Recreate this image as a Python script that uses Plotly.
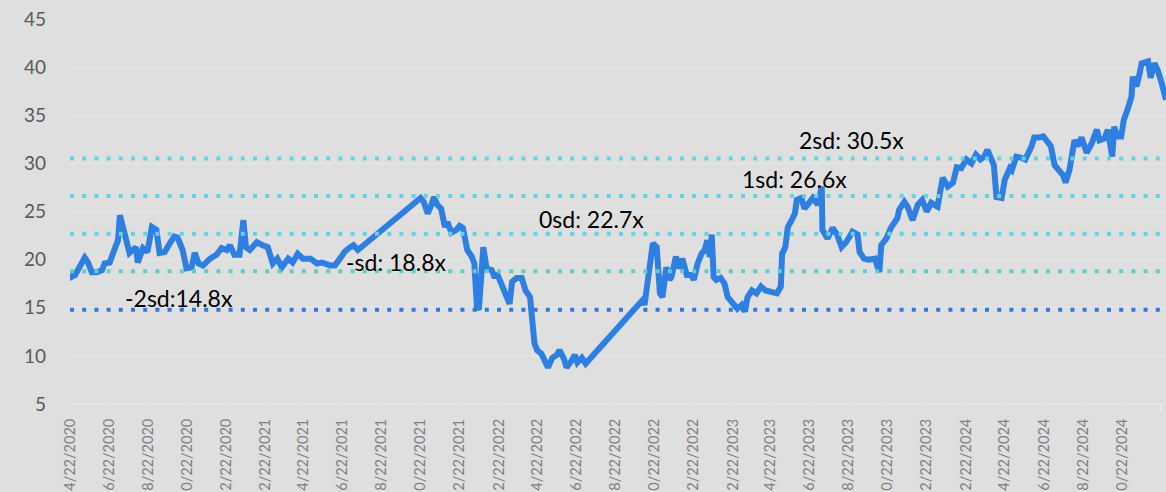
import plotly.graph_objects as go

dates = [
    "2020-04-22", "2020-04-24", "2020-04-30", "2020-05-08", "2020-05-15", "2020-05-20", "2020-05-26",
    "2020-06-03", "2020-06-11", "2020-06-15", "2020-06-23", "2020-06-29", "2020-07-06", "2020-07-09",
    "2020-07-14", "2020-07-20", "2020-07-24", "2020-08-03", "2020-08-06", "2020-08-14", "2020-08-21",
    "2020-08-28", "2020-09-04", "2020-09-09", "2020-09-17", "2020-09-25", "2020-10-02", "2020-10-07",
    "2020-10-15", "2020-10-21", "2020-10-29", "2020-11-03", "2020-11-09", "2020-11-16", "2020-11-27",
    "2020-12-07", "2020-12-15", "2020-12-23", "2020-12-28", "2021-01-04", "2021-01-12", "2021-01-18",
    "2021-01-22", "2021-01-28", "2021-02-08", "2021-02-17", "2021-02-25", "2021-03-05", "2021-03-12",
    "2021-03-19", "2021-03-29", "2021-04-05", "2021-04-13", "2021-04-21", "2021-05-03", "2021-05-13",
    "2021-05-21", "2021-06-02", "2021-06-10", "2021-06-18", "2021-06-25", "2021-07-02", "2021-07-09",
    "2021-07-16",
    "2021-10-22", "2021-10-27", "2021-11-02", "2021-11-08", "2021-11-12", "2021-11-17", "2021-11-23",
    "2021-11-29", "2021-12-03", "2021-12-09", "2021-12-17", "2021-12-22", "2021-12-27", "2022-01-03",
    "2022-01-10", "2022-01-14", "2022-01-18", "2022-01-21", "2022-01-25", "2022-01-28", "2022-02-02",
    "2022-02-10", "2022-02-15", "2022-02-18", "2022-02-25", "2022-03-04", "2022-03-10", "2022-03-14",
    "2022-03-21", "2022-03-29", "2022-04-04", "2022-04-11", "2022-04-18", "2022-04-22", "2022-04-29",
    "2022-05-09", "2022-05-16", "2022-05-23", "2022-05-27", "2022-06-03", "2022-06-07", "2022-06-15",
    "2022-06-20", "2022-06-24", "2022-07-01", "2022-07-07",
    "2022-10-04", "2022-10-07", "2022-10-12", "2022-10-14", "2022-10-20", "2022-10-26", "2022-10-28",
    "2022-10-31", "2022-11-04", "2022-11-10", "2022-11-15", "2022-11-18", "2022-11-25", "2022-12-01",
    "2022-12-05", "2022-12-12", "2022-12-19", "2022-12-23", "2022-12-29", "2023-01-04", "2023-01-09",
    "2023-01-13", "2023-01-17", "2023-01-20", "2023-01-23", "2023-01-27", "2023-02-03", "2023-02-09",
    "2023-02-14", "2023-02-21", "2023-03-01", "2023-03-08", "2023-03-13", "2023-03-17", "2023-03-24",
    "2023-03-31", "2023-04-07", "2023-04-14", "2023-04-24", "2023-05-02", "2023-05-08", "2023-05-10",
    "2023-05-15", "2023-05-19", "2023-05-25", "2023-05-30", "2023-06-02", "2023-06-09", "2023-06-14",
    "2023-06-22", "2023-06-27", "2023-07-05", "2023-07-11", "2023-07-12", "2023-07-20", "2023-07-28",
    "2023-08-04", "2023-08-11", "2023-08-18", "2023-08-28", "2023-09-05", "2023-09-08", "2023-09-15",
    "2023-09-22", "2023-10-02", "2023-10-09", "2023-10-12", "2023-10-20", "2023-10-27", "2023-11-06",
    "2023-11-09", "2023-11-17", "2023-11-22", "2023-11-30", "2023-12-08", "2023-12-15", "2023-12-22",
    "2023-12-29", "2024-01-08", "2024-01-16", "2024-01-24", "2024-02-01", "2024-02-07", "2024-02-14",
    "2024-02-22", "2024-03-01", "2024-03-08", "2024-03-15", "2024-03-21", "2024-03-26", "2024-04-01",
    "2024-04-05", "2024-04-09", "2024-04-17", "2024-04-22", "2024-04-30", "2024-05-03", "2024-05-10",
    "2024-05-17", "2024-05-24", "2024-06-03", "2024-06-07", "2024-06-14", "2024-06-21", "2024-06-27",
    "2024-07-03", "2024-07-09", "2024-07-12", "2024-07-22", "2024-07-26", "2024-08-01", "2024-08-09",
    "2024-08-14", "2024-08-20", "2024-08-28", "2024-09-05", "2024-09-13", "2024-09-17", "2024-09-25",
    "2024-09-30", "2024-10-07", "2024-10-10", "2024-10-15", "2024-10-21", "2024-10-25", "2024-10-31",
    "2024-11-06", "2024-11-08", "2024-11-14", "2024-11-19", "2024-11-22", "2024-12-02", "2024-12-06",
    "2024-12-12", "2024-12-17", "2024-12-23", "2024-12-30",
]

pe_values = [
    18.9, 18.2, 18.4, 19.4, 20.2, 19.7, 18.7,
    18.7, 18.9, 19.6, 19.7, 20.8, 22.0, 24.6,
    23.1, 21.3, 20.7, 21.3, 19.7, 21.2, 20.8,
    23.4, 23.1, 20.7, 20.8, 21.7, 22.4, 22.3,
    21.0, 19.1, 19.2, 20.7, 19.6, 19.4, 20.1,
    20.5, 21.2, 21.0, 21.5, 20.5, 20.5, 24.1,
    21.3, 21.0, 21.8, 21.5, 21.3, 19.6, 20.1,
    19.2, 20.1, 19.7, 20.6, 20.1, 20.1, 19.6,
    19.7, 19.4, 19.4, 20.1, 20.8, 21.2, 21.5,
    21.0,
    26.4, 26.0, 24.8, 25.7, 26.5, 25.7, 25.3,
    23.4, 23.9, 22.8, 23.1, 23.5, 23.3, 21.0,
    20.3, 19.6, 15.1, 14.8, 18.9, 21.3, 19.1,
    18.9, 18.1, 18.6, 17.5, 16.5, 15.4, 17.7,
    18.1, 18.1, 16.8, 16.1, 11.3, 10.6, 10.2,
    8.8, 9.8, 10.1, 10.6, 9.7, 8.8, 9.5,
    10.1, 9.3, 9.8, 9.2,
    15.8, 15.3, 17.9, 19.2, 21.7, 21.3, 19.2,
    16.5, 16.1, 19.2, 17.9, 18.2, 20.3, 19.1,
    20.1, 18.4, 18.4, 17.9, 19.6, 20.6, 21.0,
    22.0, 20.3, 22.6, 18.2, 17.9, 18.1, 17.5,
    16.1, 15.6, 14.9, 15.3, 14.6, 16.1, 16.8,
    16.5, 17.2, 16.8, 16.6, 16.5, 17.2, 20.6,
    21.3, 23.4, 24.1, 24.8, 26.2, 26.4, 25.3,
    26.0, 26.4, 25.7, 27.6, 23.1, 22.2, 23.3,
    22.6, 21.3, 21.8, 22.9, 22.6, 20.8, 20.1,
    20.0, 20.1, 18.7, 21.5, 22.2, 23.3, 24.3,
    25.2, 26.0, 25.5, 24.1, 25.7, 26.2, 25.0,
    25.9, 25.5, 28.5, 27.6, 28.0, 29.6, 29.5,
    30.4, 30.0, 30.9, 30.4, 30.7, 31.4, 30.6,
    29.8, 26.5, 26.4, 28.3, 29.5, 29.3, 30.7,
    30.6, 30.4, 31.8, 32.7, 32.7, 32.8, 32.3,
    31.8, 29.8, 29.6, 28.8, 28.0, 29.3, 32.4,
    31.8, 32.7, 31.1, 32.1, 33.5, 32.4, 32.6,
    33.5, 30.7, 33.8, 32.8, 32.8, 34.5, 35.6,
    36.9, 39.0, 38.0, 39.4, 40.4, 40.6, 38.9,
    40.4, 39.7, 38.4, 36.6,
]

band_labels = ["2sd: 30.5x", "1sd: 26.6x", "0sd: 22.7x", "-sd: 18.8x", "-2sd:14.8x"]
band_values = [30.5, 26.6, 22.7, 18.8, 14.8]
band_colors = ["#63d3e3", "#63d3e3", "#63d3e3", "#5ccfcc", "#2f78dc"]

tick_dates = [
    "2020-04-22", "2020-06-22", "2020-08-22", "2020-10-22", "2020-12-22",
    "2021-02-22", "2021-04-22", "2021-06-22", "2021-08-22", "2021-10-22", "2021-12-22",
    "2022-02-22", "2022-04-22", "2022-06-22", "2022-08-22", "2022-10-22", "2022-12-22",
    "2023-02-22", "2023-04-22", "2023-06-22", "2023-08-22", "2023-10-22", "2023-12-22",
    "2024-02-22", "2024-04-22", "2024-06-22", "2024-08-22", "2024-10-22", "2024-12-22",
]
tick_labels = [
    "4/22/2020", "6/22/2020", "8/22/2020", "10/22/2020", "12/22/2020",
    "2/22/2021", "4/22/2021", "6/22/2021", "8/22/2021", "10/22/2021", "12/22/2021",
    "2/22/2022", "4/22/2022", "6/22/2022", "8/22/2022", "10/22/2022", "12/22/2022",
    "2/22/2023", "4/22/2023", "6/22/2023", "8/22/2023", "10/22/2023", "12/22/2023",
    "2/22/2024", "4/22/2024", "6/22/2024", "8/22/2024", "10/22/2024", "12/22/2024",
]

x_start = "2020-04-22"
x_end = "2024-12-30"

fig = go.Figure()

fig.add_trace(go.Scatter(
    x=dates, y=pe_values, mode="lines",
    line=dict(color="#2f7fe3", width=6),
    hoverinfo="x+y", showlegend=False,
))

for val, col in zip(band_values, band_colors):
    fig.add_trace(go.Scatter(
        x=[x_start, x_end], y=[val, val], mode="lines",
        line=dict(color=col, width=4, dash="4px,8.2px"),
        hoverinfo="y", showlegend=False,
    ))

label_pos = [
    ("2023-08-27", 32.45),
    ("2023-05-29", 28.4),
    ("2022-07-16", 24.2),
    ("2021-09-14", 19.75),
    ("2020-10-09", 16.0),
]
for text, (ax, ay) in zip(band_labels, label_pos):
    fig.add_annotation(
        x=ax, y=ay, text=text, showarrow=False,
        font=dict(family="Lato", size=23, color="#000000"),
        xanchor="center", yanchor="middle",
    )

fig.update_layout(
    width=1166, height=492,
    margin=dict(l=70, r=0, t=19, b=88),
    paper_bgcolor="#dfdfdf", plot_bgcolor="#dfdfdf",
    font=dict(family="Lato"),
    showlegend=False,
)

fig.update_xaxes(
    type="date", range=[x_start, x_end],
    tickmode="array", tickvals=tick_dates, ticktext=tick_labels,
    tickangle=-90, tickfont=dict(family="Lato", size=14.5, color="#808080"),
    showgrid=False, showline=True, linecolor="#e8e8e8", linewidth=1,
    ticks="outside", ticklen=6, tickcolor="#e8e8e8", ticklabelstandoff=2,
    automargin=False, zeroline=False,
)

fig.update_yaxes(
    range=[5, 45], tickmode="array", tickvals=[5, 10, 15, 20, 25, 30, 35, 40, 45],
    tickfont=dict(family="Lato", size=19, color="#595959"),
    showgrid=True, gridcolor="#e7e7e7", gridwidth=1,
    zeroline=False, showline=False, ticklabelstandoff=23,
    automargin=False,
)

fig.write_html(
    "out.html",
    config={"displayModeBar": False},
    post_script="document.body.style.margin='0';document.body.style.overflow='hidden';",
)
